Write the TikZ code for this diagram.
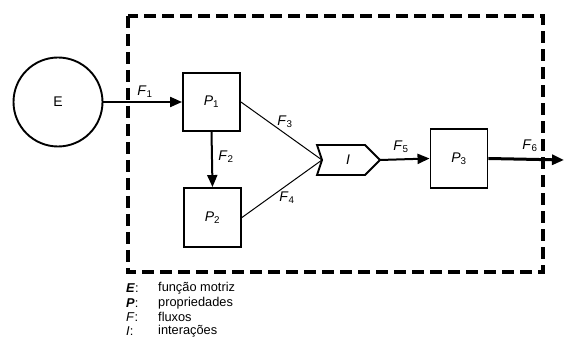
\documentclass[tikz,border=0pt]{standalone}
\usepackage{fontspec}
\setmainfont{Liberation Sans}
\usetikzlibrary{arrows.meta}
\newcommand{\flx}[2]{\textit{#1}\textsubscript{#2}}

\begin{document}
\begin{tikzpicture}[x=1pt,y=-1pt,>={Triangle[length=12pt,width=10pt]},
    box/.style={draw,line width=1.9pt,minimum width=57pt,minimum height=58pt,font=\fontsize{14}{16}\selectfont},
    lbl/.style={font=\fontsize{14}{16}\selectfont,inner sep=1pt},
    legend/.style={anchor=west,font=\fontsize{12.8}{15}\selectfont,inner sep=0pt}]
  \useasboundingbox (0,0) rectangle (564,352);
  % system boundary
  \draw[line width=3.2pt,dash pattern=on 12pt off 6pt] (128,16) rectangle (543,272);
  % driving function and properties
  \node[draw,circle,line width=1.9pt,minimum size=89pt,font=\fontsize{14}{16}\selectfont] (E) at (58,102) {E};
  \node[box] (P1) at (211.5,102) {\flx{P}{1}};
  \node[box,minimum height=59pt] (P2) at (212.5,217.5) {\flx{P}{2}};
  \node[box,minimum height=59pt] (P3) at (459,158.5) {\flx{P}{3}};
  % interaction
  \coordinate (Iin) at (322,160);
  \coordinate (Iout) at (380,160);
  \draw[line width=1.9pt,line join=miter] (317,145) -- (365,145) -- (Iout) -- (365,175) -- (317,175) -- (Iin) -- cycle;
  \node[lbl] (I) at (348,160) {\textit{I}};
  \coordinate (out) at (564,160);
  % flows
  \draw[->,line width=2pt] (E.east) -- (P1.west);
  \draw[->,line width=2pt] (P1.south) -- (P2.north);
  \draw[line width=1pt] (P1.east) -- (Iin);
  \draw[line width=1pt] (P2.east) -- (Iin);
  \draw[->,line width=2pt] (Iout) -- (P3.west);
  \draw[->,line width=3pt] (P3.east) -- (out);
  \node[lbl] (F1) at (145,92) {\flx{F}{1}};
  \node[lbl] (F2) at (226,157) {\flx{F}{2}};
  \node[lbl] (F3) at (285,122) {\flx{F}{3}};
  \node[lbl] (F4) at (287,198) {\flx{F}{4}};
  \node[lbl] (F5) at (401,147) {\flx{F}{5}};
  \node[lbl] (F6) at (530,146) {\flx{F}{6}};
  % legend
  \node[legend] (kE) at (126,288) {\textbf{\textit{E}}:};
  \node[legend] (kP) at (126,303) {\textbf{\textit{P}}:};
  \node[legend] (kF) at (126,317) {\textit{F}:};
  \node[legend] (kI) at (126,331) {\textit{I}:};
  \node[legend] (tE) at (158,288) {função motriz};
  \node[legend] (tP) at (158,303) {propriedades};
  \node[legend] (tF) at (158,317) {fluxos};
  \node[legend] (tI) at (158,331) {interações};
\end{tikzpicture}
\end{document}
